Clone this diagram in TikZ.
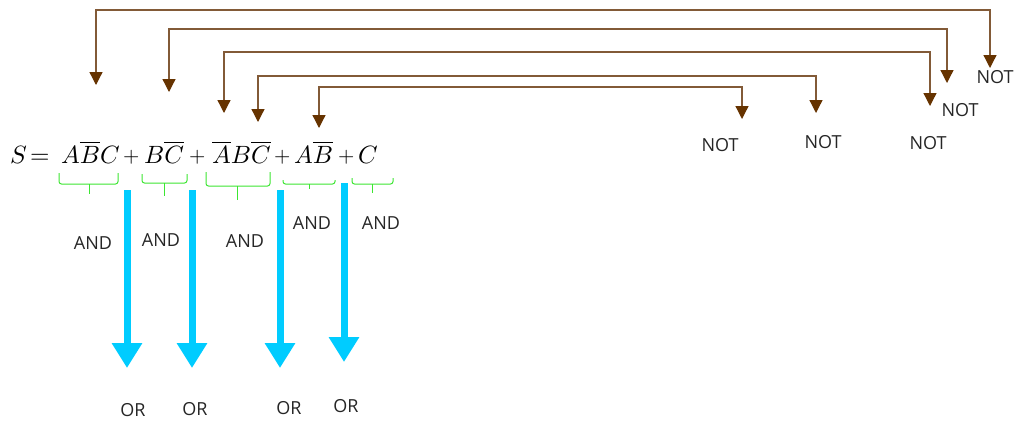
\documentclass[tikz,border=0pt]{standalone}
\usepackage{graphicx}
\usepackage{fontspec}
\newfontfamily\labfont{Open Sans}
\usetikzlibrary{arrows.meta}
\definecolor{notbrown}{RGB}{102,51,0}
\definecolor{linebrown}{RGB}{130,90,55}
\definecolor{brace}{RGB}{60,230,50}
\definecolor{orblue}{RGB}{0,204,255}
\newcommand{\eqbig}[1]{\scalebox{2.5}{$#1$}}
\newcommand{\eqplus}{\scalebox{2.1}{$+$}}
\tikzset{
  lab/.style={font=\labfont\fontsize{18}{20}\selectfont, inner sep=0pt, text=black!85},
  eq/.style={inner sep=0pt, anchor=base west},
  notline/.style={draw=linebrown, line width=1.3pt,
    {Triangle[width=13pt,length=13pt,color=notbrown]}-{Triangle[width=13pt,length=13pt,color=notbrown]}},
  bracepath/.style={draw=brace, line width=1pt, rounded corners=2.5pt},
  orarrow/.style={draw=orblue, line width=7pt, -{Triangle[width=29pt,length=25pt]}}
}
\begin{document}
\begin{tikzpicture}[x=1pt,y=-1pt]
\useasboundingbox (0,0) rectangle (1017,421);
\fill[white] (0,0) rectangle (1017,421);

% equation
\node[eq] (s)  at (10,163)  {\eqbig{S}};
\node[eq] (eqs) at (30,163) {\eqbig{=}};
\node[eq] (t1) at (61,163)  {\eqbig{A\overline{B}C}};
\node[eq] (p1) at (123,162) {\eqplus};
\node[eq] (t2) at (144,163) {\eqbig{B\overline{C}}};
\node[eq] (p2) at (189,162) {\eqplus};
\node[eq] (t3) at (212,163) {\eqbig{\overline{A}B\overline{C}}};
\node[eq] (p3) at (274,162) {\eqplus};
\node[eq] (t4) at (294,163) {\eqbig{A\overline{B}}};
\node[eq] (p4) at (338,162) {\eqplus};
\node[eq] (t5) at (358,163) {\eqbig{C}};

% NOT connectors
\coordinate (l1) at (96,85);  \coordinate (r1) at (990,68);  \coordinate (h1) at (0,10);
\coordinate (l2) at (169,92); \coordinate (r2) at (947,83);  \coordinate (h2) at (0,29);
\coordinate (l3) at (224,113);\coordinate (r3) at (930,106); \coordinate (h3) at (0,52);
\coordinate (l4) at (258,122);\coordinate (r4) at (816,113); \coordinate (h4) at (0,76);
\coordinate (l5) at (319,128);\coordinate (r5) at (742,119); \coordinate (h5) at (0,87);
\draw[notline] (l1) -- (l1 |- h1) -- (r1 |- h1) -- (r1);
\draw[notline] (l2) -- (l2 |- h2) -- (r2 |- h2) -- (r2);
\draw[notline] (l3) -- (l3 |- h3) -- (r3 |- h3) -- (r3);
\draw[notline] (l4) -- (l4 |- h4) -- (r4 |- h4) -- (r4);
\draw[notline] (l5) -- (l5 |- h5) -- (r5 |- h5) -- (r5);

\node[lab] (n1) at (995,77)  {NOT};
\node[lab] (n2) at (960,110) {NOT};
\node[lab] (n3) at (928,143) {NOT};
\node[lab] (n4) at (823,142) {NOT};
\node[lab] (n5) at (720,145) {NOT};

% braces
\draw[bracepath] (59,173) -- (59,184) -- (118,184) -- (118,173);
\draw[brace, line width=1pt] (89,184) -- (89,194);
\draw[bracepath] (142,174) -- (142,183) -- (187,183) -- (187,174);
\draw[brace, line width=1pt] (164,183) -- (164,196);
\draw[bracepath] (206,172) -- (206,186) -- (270,186) -- (270,172);
\draw[brace, line width=1pt] (237,186) -- (237,200);
\draw[bracepath] (283,180) -- (283,184) -- (335,184) -- (335,180);
\draw[brace, line width=1pt] (309,184) -- (309,189);
\draw[bracepath] (352,178) -- (352,184) -- (393,184) -- (393,178);
\draw[brace, line width=1pt] (372,184) -- (372,193);

% OR arrows
\coordinate (a1) at (127,190); \coordinate (o1) at (127,368);
\coordinate (a2) at (192,190); \coordinate (o2) at (192,368);
\coordinate (a3) at (280,190); \coordinate (o3) at (280,368);
\coordinate (a4) at (344,183); \coordinate (o4) at (344,362);
\draw[orarrow] (a1) -- (o1);
\draw[orarrow] (a2) -- (o2);
\draw[orarrow] (a3) -- (o3);
\draw[orarrow] (a4) -- (o4);

\node[lab] (and1) at (93,243)  {AND};
\node[lab] (and2) at (161,240) {AND};
\node[lab] (and3) at (245,241) {AND};
\node[lab] (and4) at (312,223) {AND};
\node[lab] (and5) at (381,223) {AND};

\node[lab] (or1) at (133,410) {OR};
\node[lab] (or2) at (195,409) {OR};
\node[lab] (or3) at (289,408) {OR};
\node[lab] (or4) at (346,406) {OR};
\end{tikzpicture}
\end{document}
